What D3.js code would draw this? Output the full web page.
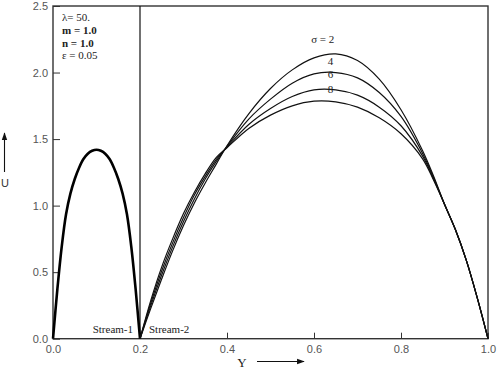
<!DOCTYPE html>
<html>
<head>
<meta charset="utf-8">
<script src="https://cdn.jsdelivr.net/npm/d3@7"></script>
<style>
  body { margin: 0; background: #fff; }
  .tick text { font-family: "Liberation Sans", Arial, sans-serif; font-size: 11px; fill: #555; }
  .tick line { stroke: #333; }
  .serif { font-family: "Liberation Serif", "DejaVu Serif", serif; }
</style>
</head>
<body>
<div id="chart"></div>
<script>
// stream-1 velocity profile (0 <= Y <= 0.2)
var y1 = [0, 0.01, 0.02, 0.03, 0.04, 0.05, 0.06, 0.07, 0.08, 0.09, 0.10,
          0.11, 0.12, 0.13, 0.14, 0.15, 0.16, 0.17, 0.18, 0.19, 0.20];
var u1 = [0, 0.37, 0.69, 0.935, 1.09, 1.20, 1.285, 1.35, 1.39, 1.412, 1.42,
          1.412, 1.39, 1.35, 1.285, 1.20, 1.09, 0.935, 0.69, 0.37, 0];

// stream-2 profiles (0.2 <= Y <= 1.0) for sigma = 2, 4, 6, 8
var y2 = [0.20, 0.225, 0.25, 0.275, 0.30, 0.325, 0.35, 0.375, 0.40, 0.45, 0.50,
          0.55, 0.60, 0.65, 0.70, 0.75, 0.80, 0.85, 0.875, 0.90, 0.925, 0.95, 0.975, 1.0];
var uSigma2 = [0, 0.23, 0.45, 0.66, 0.85, 1.02, 1.17, 1.31, 1.45, 1.69, 1.88,
               2.02, 2.11, 2.14, 2.09, 1.95, 1.72, 1.41, 1.22, 1.01, 0.82, 0.59, 0.31, 0];
var uSigma4 = [0, 0.25, 0.48, 0.69, 0.88, 1.05, 1.20, 1.33, 1.445, 1.65, 1.80,
               1.92, 1.99, 2.00, 1.96, 1.85, 1.67, 1.39, 1.21, 1.01, 0.82, 0.59, 0.31, 0];
var uSigma6 = [0, 0.27, 0.51, 0.72, 0.91, 1.08, 1.22, 1.345, 1.44, 1.61, 1.73,
               1.82, 1.87, 1.87, 1.83, 1.74, 1.60, 1.37, 1.20, 1.01, 0.82, 0.59, 0.31, 0];
var uSigma8 = [0, 0.29, 0.54, 0.75, 0.94, 1.10, 1.24, 1.36, 1.435, 1.58, 1.68,
               1.75, 1.785, 1.78, 1.74, 1.66, 1.54, 1.35, 1.19, 1.01, 0.82, 0.59, 0.31, 0];
var sigmaLabels = ["\u03c3 = 2", "4", "6", "8"];

var xTicks = [0, 0.2, 0.4, 0.6, 0.8, 1.0];
var yTicks = [0, 0.5, 1.0, 1.5, 2.0, 2.5];
var params = ["\u03bb= 50.", "m = 1.0", "n = 1.0", "\u03b5 = 0.05"];

var width = 498,
  height = 369,
  margin = { top: 6, right: 10, bottom: 30.3, left: 53 };
var w = width - margin.left - margin.right,
  h = height - margin.top - margin.bottom;

var svg = d3.select("#chart").append("svg")
  .attr("width", width).attr("height", height)
  .append("g")
  .attr("transform", `translate(${margin.left},${margin.top})`);

var x = d3.scaleLinear().domain([0, 1]).range([0, w]);
var y = d3.scaleLinear().domain([0, 2.5]).range([h, 0]);

// axes, ticks pointing inward
var xAxis = d3.axisBottom(x).tickValues(xTicks).tickFormat(d3.format(".1f"))
  .tickSizeInner(-6).tickSizeOuter(0).tickPadding(7);
var yAxis = d3.axisLeft(y).tickValues(yTicks).tickFormat(d3.format(".1f"))
  .tickSizeInner(-7).tickSizeOuter(0).tickPadding(5);

svg.append("g").attr("transform", `translate(0,${h})`).call(xAxis)
  .call(g => g.select(".domain").remove());
svg.append("g").call(yAxis).call(g => g.select(".domain").remove());

// frame
svg.append("rect").attr("width", w).attr("height", h)
  .attr("fill", "none").attr("stroke", "#333").attr("stroke-width", 1.4);

// interface between the streams
svg.append("line")
  .attr("x1", x(0.2)).attr("x2", x(0.2)).attr("y1", 0).attr("y2", h)
  .attr("stroke", "#111").attr("stroke-width", 1.2);

var line = d3.line().curve(d3.curveCatmullRom.alpha(0.5));

svg.append("path")
  .attr("d", line(y1.map((d, i) => [x(d), y(u1[i])])))
  .attr("fill", "none").attr("stroke", "#000").attr("stroke-width", 2.6);

var series = [uSigma2, uSigma4, uSigma6, uSigma8];
series.forEach(function (s) {
  svg.append("path")
    .attr("d", line(y2.map((d, i) => [x(d), y(s[i])])))
    .attr("fill", "none").attr("stroke", "#111").attr("stroke-width", 1.2);
});

// sigma labels just above the peaks
var labelPos = [[0.62, 2.22], [0.638, 2.06], [0.638, 1.96], [0.638, 1.85]];
sigmaLabels.forEach(function (t, i) {
  svg.append("text").attr("class", "serif")
    .attr("x", x(labelPos[i][0])).attr("y", y(labelPos[i][1]))
    .attr("text-anchor", "middle")
    .attr("font-size", 11).attr("fill", "#222")
    .text(t);
});

// parameter list
svg.selectAll(".param").data(params).join("text")
  .attr("class", "param serif")
  .attr("x", 9).attr("y", (d, i) => 15 + i * 12.8)
  .attr("font-size", 11).attr("fill", "#222")
  .attr("font-weight", (d, i) => (i == 1 || i == 2 ? "bold" : "normal"))
  .text(d => d);

svg.append("text").attr("class", "serif").attr("x", x(0.2) - 7).attr("y", h - 6)
  .attr("text-anchor", "end").attr("font-size", 11)
  .attr("fill", "#222").text("Stream-1");
svg.append("text").attr("class", "serif").attr("x", x(0.2) + 9).attr("y", h - 6)
  .attr("font-size", 11)
  .attr("fill", "#222").text("Stream-2");

// axis titles with arrows
var defs = svg.append("defs");
defs.append("marker").attr("id", "arr").attr("viewBox", "0 0 10 10")
  .attr("refX", 9).attr("refY", 5).attr("markerWidth", 7).attr("markerHeight", 7)
  .attr("orient", "auto")
  .append("path").attr("d", "M0,1.5L10,5L0,8.5z").attr("fill", "#111");

svg.append("text").attr("class", "serif").attr("x", 242 - margin.left).attr("y", 367 - margin.top)
  .attr("text-anchor", "middle").attr("font-size", 13)
  .attr("fill", "#222").text("Y");
svg.append("line").attr("x1", 257 - margin.left).attr("x2", 304 - margin.left)
  .attr("y1", 361.5 - margin.top).attr("y2", 361.5 - margin.top)
  .attr("stroke", "#111").attr("stroke-width", 1.1).attr("marker-end", "url(#arr)");

svg.append("text").attr("x", 5 - margin.left).attr("y", 187 - margin.top)
  .attr("text-anchor", "middle").attr("font-family", "'Liberation Sans', Arial, sans-serif")
  .attr("font-size", 11).attr("fill", "#333").text("U");
svg.append("line").attr("x1", 4.5 - margin.left).attr("x2", 4.5 - margin.left)
  .attr("y1", 172 - margin.top).attr("y2", 133 - margin.top)
  .attr("stroke", "#111").attr("stroke-width", 1.1).attr("marker-end", "url(#arr)");
</script>
</body>
</html>
